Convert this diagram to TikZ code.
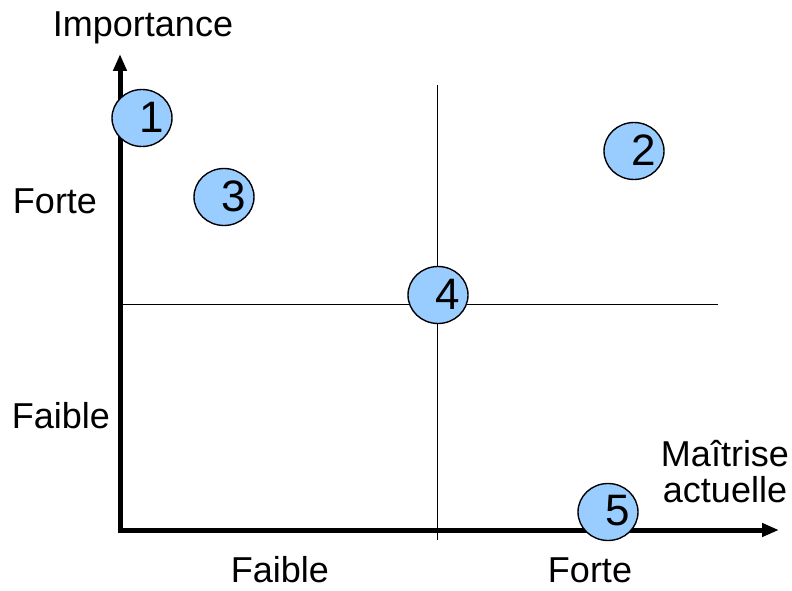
\documentclass[tikz,border=0pt]{standalone}
\usepackage[RGB]{xcolor}
\usepackage{fontspec}
\setmainfont{Liberation Sans}
\usetikzlibrary{shapes.geometric,arrows.meta}
\definecolor{bubble}{RGB}{153,204,255}
\newcommand{\drawaxis}{\draw[line width=5pt,-{Triangle[length=17pt,width=13pt]}]}
\newcommand{\drawthin}{\draw[line width=1pt]}
\newcommand{\bubblenode}[4]{
    \node[ellipse,draw,line width=1.4pt,fill=bubble,minimum width=60pt,minimum height=57pt,inner sep=0pt] (#1) at (#3,#4) {};
    \node[font=\fontsize{44}{44}\selectfont] (#1n) at (#3+10,#4+1) {#2};
}

\begin{document}
\begin{tikzpicture}[x=1pt,y=1pt]
\useasboundingbox (0,0) rectangle (792,590);
\coordinate (orig) at (120,60);
\coordinate (ytip) at (120,536);
\coordinate (xtip) at (779,60);
\coordinate (vtop) at (437,505);
\coordinate (vbot) at (437,50);
\coordinate (hleft) at (120,286);
\coordinate (hright) at (718,286);
% quadrant separators
\drawthin (vtop)--(vbot);
\drawthin (hleft)--(hright);
% axes
\drawaxis (orig)--(ytip);
\drawaxis ([xshift=-2.5pt]orig)--(xtip);
% points
\bubblenode{p1}{1}{142}{472}
\bubblenode{p2}{2}{634}{439}
\bubblenode{p3}{3}{224}{393}
\bubblenode{p4}{4}{438}{295}
\bubblenode{p5}{5}{608}{78}
% labels
\tikzset{lbl/.style={font=\fontsize{36}{36}\selectfont,inner sep=0pt,anchor=base}}
\node[lbl] (imp) at (143,553) {Importance};
\node[lbl] (yfort) at (55,377) {Forte};
\node[lbl] (yfaib) at (61,162) {Faible};
\node[lbl] (xfaib) at (280,8) {Faible};
\node[lbl] (xfort) at (590,8) {Forte};
\node[lbl,align=center] (maitr) at (725,88) {Maîtrise\\actuelle};
\end{tikzpicture}
\end{document}
